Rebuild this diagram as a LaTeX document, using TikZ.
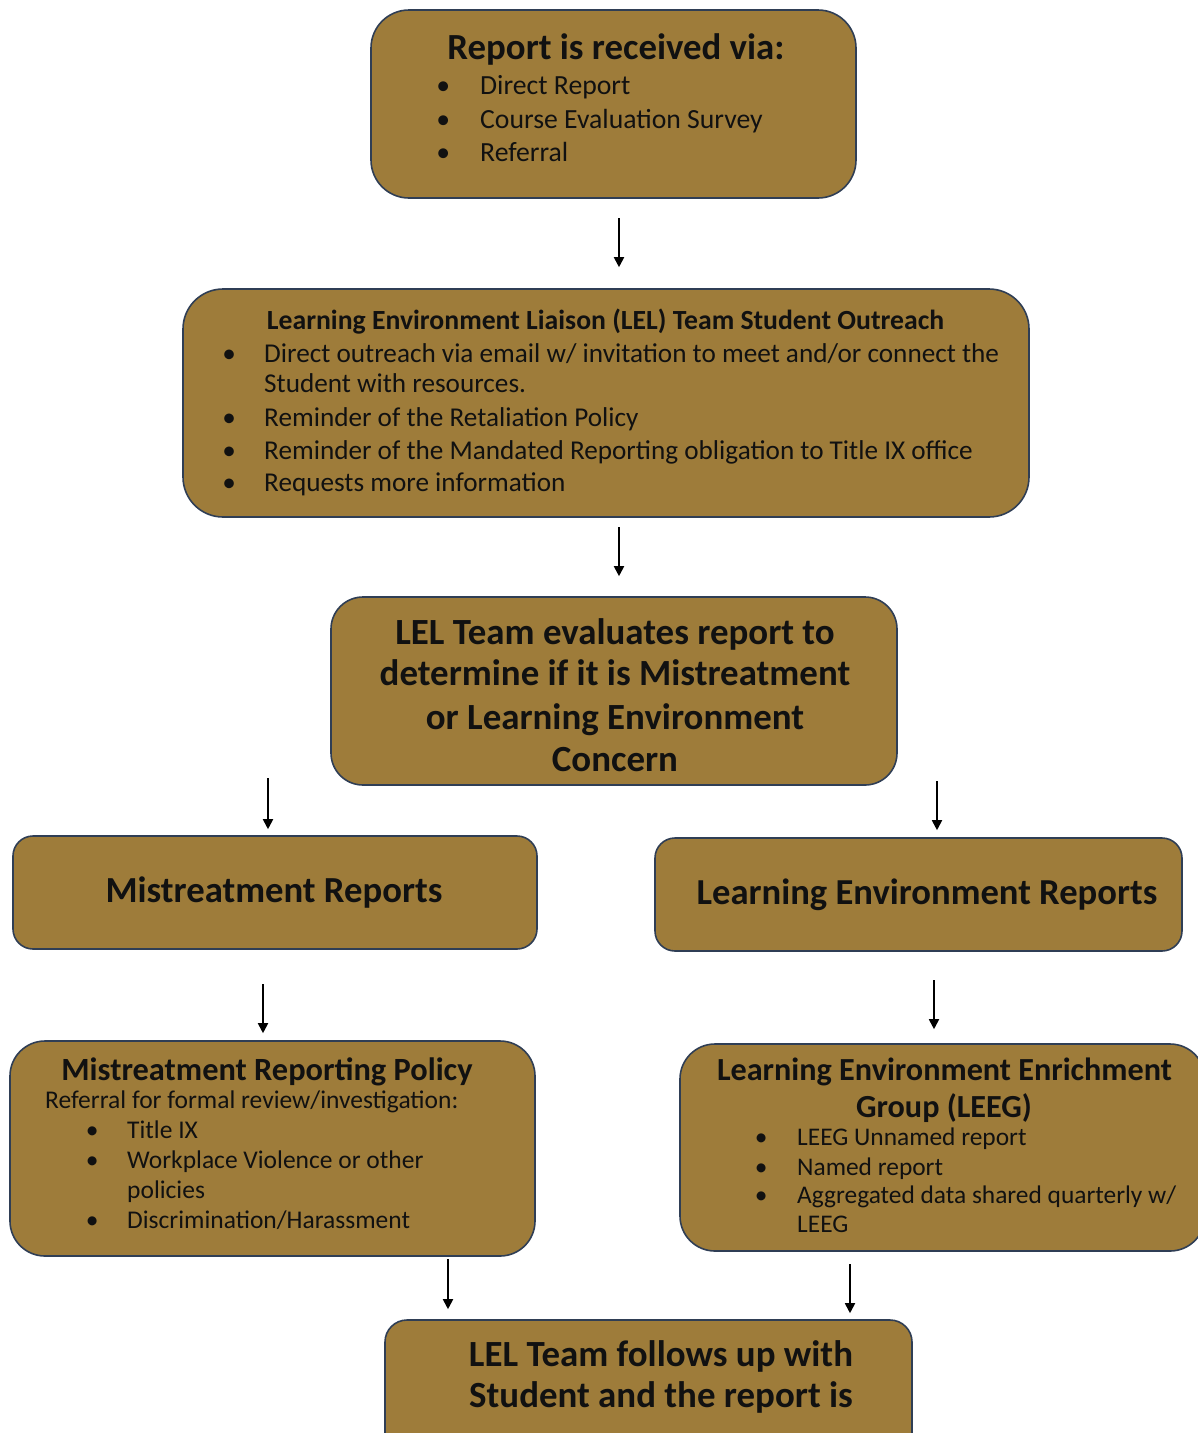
\documentclass[tikz,border=0pt]{standalone}
\usepackage{fontspec}
\setmainfont{Carlito}
\usetikzlibrary{arrows.meta}
\definecolor{gold}{RGB}{158,124,58}
\definecolor{bdr}{RGB}{47,62,85}
\definecolor{ink}{RGB}{17,17,17}
\newcommand\bu[1]{\llap{\makebox[#1]{•}}}
\tikzset{
  box/.style={draw=bdr, fill=gold, line width=1.6pt, rounded corners=#1, inner sep=0pt},
  lnw/.style={anchor=base west, inner sep=0pt, text=ink, font=\fontsize{#1}{#1}\selectfont},
  lnc/.style={anchor=base, inner sep=0pt, text=ink, font=\fontsize{#1}{#1}\selectfont\bfseries},
  arr/.style={-{Triangle[length=10pt,width=10pt]}, line width=1.8pt, draw=black}
}
\begin{document}
\begin{tikzpicture}[x=1pt,y=-1pt]
\useasboundingbox (0,0) rectangle (1198,1433);
\clip (0,0) rectangle (1198,1433);
% boxes
\node[box=38pt, minimum width=485pt, minimum height=188pt] (b1) at (613.5,104) {};
\node[box=40pt, minimum width=846pt, minimum height=228pt] (b2) at (606,403) {};
\node[box=32pt, minimum width=566pt, minimum height=188pt] (b3) at (614,691) {};
\node[box=20pt, minimum width=524pt, minimum height=113pt] (b4) at (275,892.5) {};
\node[box=20pt, minimum width=527pt, minimum height=113pt] (b5) at (918.5,894.5) {};
\node[box=35pt, minimum width=525pt, minimum height=215pt] (b6) at (272.5,1148.5) {};
\node[box=35pt, minimum width=525pt, minimum height=207pt] (b7) at (942.5,1147.5) {};
\node[box=22pt, minimum width=527pt, minimum height=150pt] (b8) at (648.5,1395) {};
% box 1 text
\node[lnc=36.8pt] (t1) at (616,59) {Report is received via:};
\node[lnw=27.7pt] (t1a) at (480,94.3) {\bu{74pt}Direct Report};
\node[lnw=27.7pt] (t1b) at (480,128.3) {\bu{74pt}Course Evaluation Survey};
\node[lnw=27.7pt] (t1c) at (480,161.3) {\bu{74pt}Referral};
% box 2 text
\node[lnc=27.7pt] (t2) at (605.5,329.5) {Learning Environment Liaison (LEL) Team Student Outreach};
\node[lnw=27.2pt] (t2a) at (264,362) {\bu{70pt}Direct outreach via email w/ invitation to meet and/or connect the};
\node[lnw=27.2pt] (t2b) at (264,392) {Student with resources.};
\node[lnw=27.2pt] (t2c) at (264,426) {\bu{70pt}Reminder of the Retaliation Policy};
\node[lnw=27.2pt] (t2d) at (264,459) {\bu{70pt}Reminder of the Mandated Reporting obligation to Title IX office};
\node[lnw=27.2pt] (t2e) at (264,491) {\bu{70pt}Requests more information};
% box 3 text
\node[lnc=36.9pt] (t3a) at (615,644) {LEL Team evaluates report to};
\node[lnc=36.9pt] (t3b) at (615,685) {determine if it is Mistreatment};
\node[lnc=36.9pt] (t3c) at (615,729) {or Learning Environment};
\node[lnc=36.9pt] (t3d) at (615,771) {Concern};
% box 4, 5
\node[lnc=36.7pt] (t4) at (274,902) {Mistreatment Reports};
\node[lnc=36.6pt] (t5) at (927,904) {Learning Environment Reports};
% box 6
\node[lnc=32.4pt] (t6) at (267,1080) {Mistreatment Reporting Policy};
\node[lnw=25.5pt] (t6a) at (45,1108) {Referral for formal review/investigation:};
\node[lnw=25.5pt] (t6b) at (127,1138) {\bu{70pt}Title IX};
\node[lnw=25.5pt] (t6c) at (127,1168) {\bu{70pt}Workplace Violence or other};
\node[lnw=25.5pt] (t6d) at (127,1198) {policies};
\node[lnw=25.5pt] (t6e) at (127,1228) {\bu{70pt}Discrimination/Harassment};
% box 7
\node[lnc=32.2pt] (t7a) at (944.5,1080) {Learning Environment Enrichment};
\node[lnc=32.2pt] (t7b) at (944,1117.5) {Group (LEEG)};
\node[lnw=25.4pt] (t7c) at (797,1145) {\bu{72pt}LEEG Unnamed report};
\node[lnw=25.4pt] (t7d) at (797,1175) {\bu{72pt}Named report};
\node[lnw=25.4pt] (t7e) at (797,1203) {\bu{72pt}Aggregated data shared quarterly w/};
\node[lnw=25.4pt] (t7f) at (797,1232) {LEEG};
% box 8
\node[lnc=36.9pt] (t8a) at (661,1366.5) {LEL Team follows up with};
\node[lnc=36.9pt] (t8b) at (661,1407.5) {Student and the report is};
% arrows
\coordinate (s1) at (619,218);
\coordinate (s2) at (619,527);
\coordinate (s3) at (268,778);
\coordinate (s4) at (937,781);
\coordinate (s5) at (263,984);
\coordinate (s6) at (934,980);
\coordinate (s7) at (448,1259);
\coordinate (s8) at (850,1264);
\draw[arr, shorten >=21pt] (s1) -- (b2.north -| s1);
\draw[arr, shorten >=20pt] (s2) -- (b3.north -| s2);
\draw[arr, shorten >=6pt] (s3) -- (b4.north -| s3);
\draw[arr, shorten >=7pt] (s4) -- (b5.north -| s4);
\draw[arr, shorten >=7pt] (s5) -- (b6.north -| s5);
\draw[arr, shorten >=14pt] (s6) -- (b7.north -| s6);
\draw[arr, shorten >=10pt] (s7) -- (b8.north -| s7);
\draw[arr, shorten >=6pt] (s8) -- (b8.north -| s8);
\end{tikzpicture}
\end{document}
